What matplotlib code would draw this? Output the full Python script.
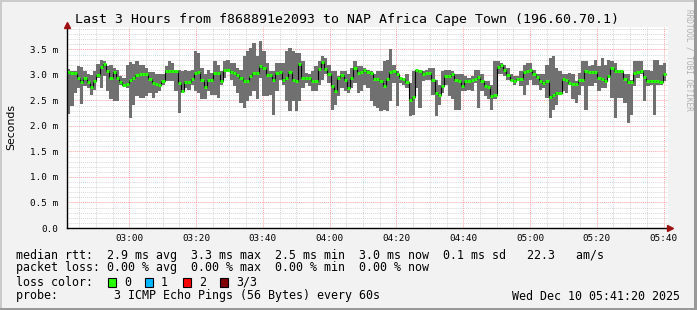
"""SmokePing style latency chart: median rtt with ping smoke, last 3 hours."""
from datetime import datetime, timedelta

import matplotlib
matplotlib.use("Agg")
import matplotlib.pyplot as plt
import matplotlib.dates as mdates
import numpy as np
import pandas as pd
from matplotlib.patches import Rectangle
from matplotlib.ticker import MultipleLocator, FuncFormatter

# --- data (milliseconds, one value per minute) ---
median_ms = [
    3.05, 3.03, 3.03, 2.94, 2.86, 2.95, 2.86, 2.77, 2.89, 2.99, 3.15, 3.22, 3.07, 2.95, 3.05, 2.95,
    2.86, 2.80, 2.82, 2.91, 2.94, 2.99, 3.02, 3.02, 3.02, 2.92, 2.85, 2.83, 2.81, 2.89, 3.07,
    3.08, 3.08, 3.08, 2.84, 2.68, 2.86, 2.86, 2.92, 3.04, 3.05, 2.90, 2.76, 2.90, 2.90, 3.04, 3.04,
    2.88, 3.09, 3.10, 3.06, 3.03, 2.99, 2.94, 2.88, 2.88, 2.97, 3.03, 3.04, 3.17, 3.14, 2.99,
    2.99, 2.90, 3.03, 3.06, 2.91, 2.94, 3.05, 2.91, 2.88, 3.22, 2.95, 2.94, 2.94, 2.89, 2.89, 3.12,
    3.26, 3.12, 3.01, 2.79, 2.68, 2.95, 2.99, 2.90, 2.75, 2.94, 3.14, 3.03, 3.05, 3.09, 3.05,
    3.03, 2.92, 2.93, 2.89, 2.79, 2.92, 3.05, 3.07, 3.01, 2.94, 2.93, 2.86, 2.50, 2.57, 3.09, 3.07,
    3.01, 3.03, 3.03, 2.91, 2.65, 2.61, 2.78, 2.97, 2.97, 3.01, 2.90, 2.89, 2.78, 2.89, 2.89,
    2.90, 2.93, 2.96, 2.89, 2.79, 2.76, 2.59, 2.60, 3.15, 3.20, 3.10, 2.99, 2.91, 2.88, 2.92, 2.92,
    3.05, 3.07, 3.10, 3.01, 2.96, 2.89, 2.84, 2.88, 2.56, 2.61, 2.65, 2.65, 2.93, 2.91, 2.84,
    2.82, 2.82, 2.91, 2.91, 3.07, 3.05, 3.05, 3.05, 2.95, 2.92, 2.88, 2.97, 3.14, 3.08, 3.08, 3.08,
    2.92, 2.86, 2.86, 3.04, 3.05, 3.07, 2.96, 2.89, 2.89, 2.88, 2.88, 2.86, 3.02,
]
smoke_hi_ms = [
    3.12, 3.07, 3.07, 3.18, 3.16, 3.07, 3.01, 2.99, 3.07, 3.22, 3.30, 3.27, 3.17, 3.20, 3.14, 3.10,
    2.97, 2.95, 3.20, 3.26, 3.22, 3.27, 3.20, 3.20, 3.14, 3.05, 3.05, 3.01, 3.01, 3.01, 3.17,
    3.27, 3.24, 3.10, 3.10, 3.07, 3.09, 3.07, 3.10, 3.46, 3.43, 3.14, 3.01, 3.10, 3.04, 3.27, 3.20,
    3.07, 3.28, 3.29, 3.24, 3.24, 3.14, 3.10, 3.37, 3.46, 3.53, 3.63, 3.37, 3.66, 3.46, 3.24,
    3.07, 3.07, 3.24, 3.24, 3.24, 3.46, 3.53, 3.46, 3.43, 3.43, 3.27, 3.04, 3.01, 3.07, 3.17, 3.27,
    3.37, 3.33, 3.20, 3.07, 3.07, 2.97, 3.07, 3.07, 3.01, 3.14, 3.27, 3.17, 3.17, 3.14, 3.10,
    3.07, 3.01, 3.07, 3.07, 3.27, 3.30, 3.50, 3.20, 3.07, 2.95, 2.95, 3.01, 2.84, 3.07, 3.10, 3.07,
    3.07, 3.10, 3.14, 3.14, 2.91, 2.81, 3.07, 3.09, 3.10, 3.07, 3.01, 3.01, 3.01, 2.97, 2.94,
    2.97, 3.09, 3.09, 3.01, 2.88, 2.88, 2.81, 3.27, 3.27, 3.24, 3.20, 3.14, 3.01, 2.97, 2.97, 3.07,
    3.20, 3.24, 3.24, 3.10, 3.01, 3.01, 3.01, 3.20, 3.33, 3.37, 3.14, 3.07, 3.01, 3.01, 3.04,
    3.01, 2.88, 3.04, 3.27, 3.28, 3.17, 3.20, 3.30, 3.17, 3.33, 3.20, 3.30, 3.27, 3.24, 3.10, 3.10,
    3.01, 3.01, 2.91, 3.27, 3.27, 3.27, 3.10, 3.10, 3.07, 3.30, 3.30, 3.20, 3.24,
]
smoke_lo_ms = [
    2.24, 2.39, 2.65, 2.75, 2.44, 2.78, 2.75, 2.61, 2.71, 2.94, 2.75, 2.97, 2.68, 2.52, 2.48, 2.48,
    2.81, 2.78, 2.75, 2.16, 2.42, 2.58, 2.55, 2.55, 2.58, 2.65, 2.55, 2.65, 2.68, 2.81, 2.88,
    2.88, 2.88, 2.68, 2.26, 2.65, 2.75, 2.71, 2.81, 2.68, 2.65, 2.53, 2.52, 2.68, 2.61, 2.61, 2.55,
    2.81, 2.94, 3.07, 2.91, 2.78, 2.65, 2.45, 2.35, 2.48, 2.58, 2.68, 2.52, 2.94, 2.58, 2.58,
    2.61, 2.22, 2.68, 2.91, 2.81, 2.48, 2.29, 2.48, 2.29, 2.48, 2.75, 2.84, 2.78, 2.68, 2.68, 2.81,
    2.91, 3.01, 2.84, 2.32, 2.42, 2.58, 2.75, 2.68, 2.65, 2.75, 2.84, 2.65, 2.68, 2.81, 2.75,
    2.48, 2.39, 2.35, 2.29, 2.32, 2.29, 2.48, 2.84, 2.39, 2.84, 2.81, 2.75, 2.19, 2.22, 2.75, 2.35,
    2.88, 2.91, 2.91, 2.61, 2.19, 2.42, 2.65, 2.81, 2.58, 2.52, 2.32, 2.32, 2.68, 2.68, 2.71,
    2.68, 2.84, 2.35, 2.68, 2.58, 2.52, 2.32, 2.52, 3.01, 3.01, 2.97, 2.91, 2.88, 2.81, 2.91, 2.78,
    2.61, 2.81, 2.91, 2.81, 2.81, 2.71, 2.75, 2.55, 2.16, 2.32, 2.42, 2.61, 2.68, 2.65, 2.81,
    2.52, 2.45, 2.61, 2.78, 2.32, 2.78, 2.78, 2.84, 2.68, 2.75, 2.75, 2.94, 2.55, 2.16, 2.55, 2.55,
    2.45, 2.06, 2.22, 2.78, 2.94, 3.01, 2.48, 2.78, 2.81, 2.22, 2.81, 2.81, 2.88,
]
loss_labels = ["0", "1", "2", "3/3"]
loss_colors = ["#26ff00", "#00b8ff", "#ff0000", "#7e0000"]

title = "Last 3 Hours from f868891e2093 to NAP Africa Cape Town (196.60.70.1)"
legend_lines = [
    "median rtt:  2.9 ms avg  3.3 ms max  2.5 ms min  3.0 ms now  0.1 ms sd   22.3   am/s",
    "packet loss: 0.00 % avg  0.00 % max  0.00 % min  0.00 % now",
    "loss color:",
    "probe:        3 ICMP Echo Pings (56 Bytes) every 60s",
]
stamp = "Wed Dec 10 05:41:20 2025"

t_start = datetime(2025, 12, 10, 2, 41, 20)
t_end = t_start + timedelta(hours=3)
t_data_end = datetime(2025, 12, 10, 5, 40, 40)

W, H = 697, 310
MONO = "DejaVu Sans Mono"
LEG_FS = 8.4

fig = plt.figure(figsize=(W / 100, H / 100), dpi=100, facecolor="#f2f2f2")

# frame shading like rrdtool
fig.add_artist(Rectangle((0, 0), 1, 2 / H, transform=fig.transFigure, color="#999999", lw=0))
fig.add_artist(Rectangle((1 - 3 / W, 0), 3 / W, 1, transform=fig.transFigure, color="#999999", lw=0))
fig.add_artist(Rectangle((0, 1 - 2 / H), 1 - 3 / W, 2 / H, transform=fig.transFigure, color="#cbcbcb", lw=0))
fig.add_artist(Rectangle((0, 2 / H), 2 / W, 1, transform=fig.transFigure, color="#cbcbcb", lw=0))

ax = fig.add_axes([67 / W, (H - 228) / H, 601 / W, 201 / H])
ax.set_facecolor("white")

edges = mdates.date2num(pd.date_range(t_start, t_data_end, periods=len(median_ms) + 1))
med = np.array(median_ms)
hi = np.append(smoke_hi_ms, smoke_hi_ms[-1])
lo = np.append(smoke_lo_ms, smoke_lo_ms[-1])

# --- smoke ---
ax.fill_between(edges, lo, hi, step="post", color="#707070", lw=0, zorder=2)
# --- median ---
ax.stairs(med, edges, baseline=None, color="black", lw=0.8, zorder=3)
ax.hlines(med, edges[:-1], edges[1:], colors=loss_colors[0], lw=2.2, zorder=4)

ax.set_xlim(mdates.date2num(t_start), mdates.date2num(t_end))
ax.set_ylim(0, 3.94)

ax.xaxis.set_major_locator(mdates.MinuteLocator(byminute=[0, 20, 40]))
ax.xaxis.set_minor_locator(mdates.MinuteLocator(byminute=range(0, 60, 5)))
ax.xaxis.set_major_formatter(mdates.DateFormatter("%H:%M"))
ax.yaxis.set_major_locator(MultipleLocator(0.5))
ax.yaxis.set_minor_locator(MultipleLocator(0.1))
ax.yaxis.set_major_formatter(FuncFormatter(lambda v, p: "0.0" if abs(v) < 1e-9 else f"{v:.1f} m"))

ax.set_axisbelow(True)
ax.grid(which="minor", color="#bdbdbd", alpha=0.6, linestyle=(0, (1, 1)), lw=0.7, zorder=0)
ax.grid(which="major", color="#ff8080", alpha=0.7, linestyle=(0, (1, 1)), lw=0.7, zorder=0)

ax.tick_params(which="both", length=0)
ax.tick_params(axis="y", pad=6.5, labelsize=6.7)
ax.tick_params(axis="x", pad=4.5, labelsize=6.7)
for lab in ax.get_xticklabels() + ax.get_yticklabels():
    lab.set_family(MONO)

for s in ("top", "right"):
    ax.spines[s].set_visible(False)
for s in ("bottom", "left"):
    ax.spines[s].set_color("black")
    ax.spines[s].set_linewidth(1.0)
    ax.spines[s].set_zorder(6)

# axis arrows
ax.plot([1.004], [0], marker=">", ms=4, color="#a01010", transform=ax.transAxes, clip_on=False, zorder=7)
ax.plot([0], [1.01], marker="^", ms=4, color="#a01010", transform=ax.transAxes, clip_on=False, zorder=7)

# --- texts ---
fig.text(11 / W, 1 - 127 / H, "Seconds", fontsize=7.8, rotation=90, ha="center", va="center")
fig.text(347 / W, 1 - 19 / H, title, family=MONO, fontsize=9.5, ha="center", va="center")
fig.text(689 / W, 1 - 60 / H, "RRDTOOL / TOBI OETIKER", family=MONO, fontsize=5.6,
         color="#b0b0b0", rotation=270, ha="center", va="center")

row_y = [255, 268, 282, 296]
for line, y in zip(legend_lines, row_y):
    fig.text(16 / W, 1 - y / H, line, family=MONO, fontsize=LEG_FS, ha="left", va="center")
fig.text(680 / W, 1 - row_y[3] / H, stamp, family=MONO, fontsize=LEG_FS, ha="right", va="center")

box_x = [108, 145, 183, 220]
for bx, col, lab in zip(box_x, loss_colors, loss_labels):
    fig.add_artist(Rectangle((bx / W, 1 - 287 / H), 8 / W, 9 / H, transform=fig.transFigure,
                             facecolor=col, edgecolor="black", lw=0.8))
    fig.text((bx + 16) / W, 1 - row_y[2] / H, lab, family=MONO, fontsize=LEG_FS, ha="left", va="center")

fig.savefig("out.png", dpi=100, facecolor=fig.get_facecolor())
plt.close(fig)
